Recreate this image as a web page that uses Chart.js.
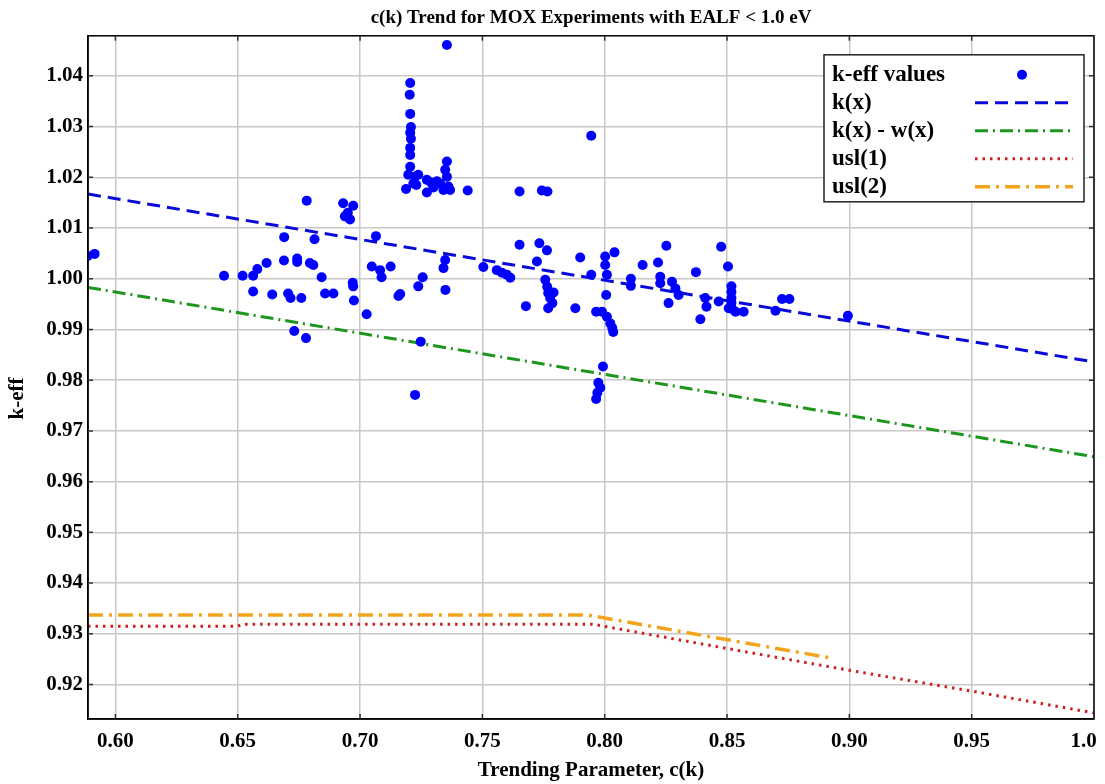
<!DOCTYPE html>
<html>
<head>
<meta charset="utf-8">
<script src="https://cdn.jsdelivr.net/npm/chart.js@4.4.1/dist/chart.umd.min.js"></script>
<style>
  body { margin: 0; background: #fff; }
  #wrap { width: 1105px; height: 784px; }
</style>
</head>
<body>
<div id="wrap"><canvas id="ckChart" width="1105" height="784"></canvas></div>
<script>
// k-eff values
var keffX = [0.5887, 0.5915,
  0.6444, 0.6520, 0.6563, 0.6580, 0.6563, 0.6618, 0.6641, 0.6690, 0.6689, 0.6743, 0.6743, 0.6706, 0.6716, 0.6760,
  0.6731, 0.6782, 0.6779, 0.6814, 0.6795, 0.6809, 0.6843, 0.6857, 0.6891,
  0.6931, 0.6972, 0.6938, 0.6959, 0.6950,
  0.6970, 0.6972, 0.6975, 0.7027, 0.7048, 0.7065, 0.7082, 0.7088, 0.7125, 0.7157, 0.7164,
  0.7205, 0.7203, 0.7205, 0.7208, 0.7205, 0.7208, 0.7205, 0.7205, 0.7205, 0.7197, 0.7225, 0.7238, 0.7218, 0.7188,
  0.7273, 0.7273, 0.7290, 0.7314, 0.7327, 0.7341, 0.7361, 0.7368, 0.7355, 0.7348, 0.7355, 0.7355, 0.7440, 0.7230, 0.7300,
  0.7238, 0.7256, 0.7225, 0.7248, 0.7348, 0.7341, 0.7349,
  0.7504, 0.7559, 0.7580, 0.7600, 0.7614, 0.7652, 0.7652, 0.7678, 0.7733, 0.7764, 0.7723, 0.7743, 0.7766,
  0.7757, 0.7765, 0.7769, 0.7777, 0.7786, 0.7769, 0.7791, 0.7880, 0.7900, 0.7945, 0.7945,
  0.8002, 0.8002, 0.8009, 0.8006, 0.7965, 0.7989, 0.8009, 0.8023, 0.8031, 0.8035, 0.8040, 0.7993, 0.7974, 0.7982, 0.7970, 0.7965,
  0.8107, 0.8107, 0.8155, 0.8218, 0.8227, 0.8227, 0.8252, 0.8275, 0.8289, 0.8302, 0.8261,
  0.8373, 0.8391, 0.8411, 0.8416, 0.8466, 0.8476, 0.8504, 0.8518, 0.8518, 0.8518, 0.8518, 0.8522, 0.8535, 0.8507, 0.8568,
  0.8698, 0.8725, 0.8755, 0.8994];
var keffY = [1.0045, 1.0049,
  1.0006, 1.0006, 1.0006, 1.0019, 0.9975, 1.0031, 0.9969, 1.0082, 1.0036, 1.0040, 1.0033, 0.9971, 0.9962, 0.9962,
  0.9897, 1.0154, 0.9883, 1.0078, 1.0031, 1.0027, 1.0003, 0.9971, 0.9971,
  1.0149, 1.0144, 1.0123, 1.0117, 1.0130,
  0.9992, 0.9985, 0.9957, 0.9930, 1.0024, 1.0084, 1.0017, 1.0003, 1.0024, 0.9966, 0.9970,
  1.0386, 1.0363, 1.0325, 1.0299, 1.0288, 1.0276, 1.0258, 1.0244, 1.0221, 1.0205, 1.0201, 1.0205, 1.0188, 1.0177,
  1.0195, 1.0170, 1.0190, 1.0192, 1.0188, 1.0175, 1.0182, 1.0175, 1.0231, 1.0215, 1.0201, 1.0461, 1.0174, 1.0185, 1.0180,
  0.9985, 1.0003, 0.9771, 0.9876, 1.0037, 1.0021, 0.9978,
  1.0023, 1.0017, 1.0012, 1.0008, 1.0002, 1.0172, 1.0067, 0.9946, 1.0070, 1.0056, 1.0034, 1.0174, 1.0172,
  0.9998, 0.9984, 0.9972, 0.9962, 0.9952, 0.9942, 0.9973, 0.9942, 1.0042, 1.0008, 1.0282,
  1.0044, 1.0027, 1.0008, 0.9968, 0.9935, 0.9935, 0.9925, 0.9912, 0.9903, 0.9895, 1.0052, 0.9827, 0.9795, 0.9785, 0.9775, 0.9763,
  1.0000, 0.9986, 1.0027, 1.0032, 1.0004, 0.9991, 1.0065, 0.9994, 0.9981, 0.9968, 0.9952,
  1.0013, 0.9920, 0.9962, 0.9945, 0.9955, 1.0063, 1.0024, 0.9985, 0.9974, 0.9962, 0.9952, 0.9940, 0.9935, 0.9942, 0.9935,
  0.9937, 0.9960, 0.9960, 0.9927];

// trend lines
var kxX = [0.5888, 1.0];
var kxY = [1.0167, 0.9836];
var kwX = [0.5888, 1.0];
var kwY = [0.9983, 0.9649];
var usl1X = [0.5888, 0.650, 0.652, 0.795, 0.850, 0.900, 0.950, 1.0];
var usl1Y = [0.9315, 0.9315, 0.9319, 0.9319, 0.9271, 0.9228, 0.9187, 0.9144];
var usl2X = [0.5888, 0.793, 0.8915];
var usl2Y = [0.9337, 0.9337, 0.9253];

var xTicks = [0.60, 0.65, 0.70, 0.75, 0.80, 0.85, 0.90, 0.95, 1.0];
var yTicks = [0.92, 0.93, 0.94, 0.95, 0.96, 0.97, 0.98, 0.99, 1.00, 1.01, 1.02, 1.03, 1.04];

function pts(xs, ys) {
  return xs.map(function (x, i) { return { x: x, y: ys[i] }; });
}

var serif = '"Liberation Serif", "Times New Roman", serif';

// box around the plot with small inward tick marks
var frame = {
  id: 'frame',
  afterDatasetsDraw: function (chart) {
    var ctx = chart.ctx, a = chart.chartArea;
    var xs = chart.scales.x, ys = chart.scales.y;
    ctx.save();
    ctx.strokeStyle = '#000';
    ctx.lineWidth = 1.5;
    ctx.strokeRect(a.left, a.top, a.right - a.left, a.bottom - a.top);
    ctx.strokeStyle = '#333';
    ctx.beginPath();
    xs.ticks.forEach(function (t) {
      var px = xs.getPixelForValue(t.value);
      ctx.moveTo(px, a.bottom); ctx.lineTo(px, a.bottom - 5);
      ctx.moveTo(px, a.top); ctx.lineTo(px, a.top + 5);
    });
    ys.ticks.forEach(function (t) {
      var py = ys.getPixelForValue(t.value);
      ctx.moveTo(a.left, py); ctx.lineTo(a.left + 5, py);
      ctx.moveTo(a.right, py); ctx.lineTo(a.right - 5, py);
    });
    ctx.stroke();
    ctx.restore();
  }
};

// legend with text on the left and the symbol on the right
var legendBox = {
  id: 'legendBox',
  afterDraw: function (chart) {
    var ctx = chart.ctx, a = chart.chartArea;
    var w = 260, h = 147, rowH = 28;
    var left = a.right - 10 - w, top = a.top + 19;
    ctx.save();
    ctx.fillStyle = '#fff';
    ctx.fillRect(left, top, w, h);
    ctx.strokeStyle = '#222';
    ctx.lineWidth = 1.5;
    ctx.strokeRect(left, top, w, h);
    ctx.font = 'bold 23px ' + serif;
    ctx.textBaseline = 'middle';
    chart.data.datasets.forEach(function (ds, i) {
      var y = top + 20 + i * rowH;
      ctx.fillStyle = '#000';
      ctx.fillText(ds.label, left + 8, y);
      if (!ds.showLine) {
        ctx.fillStyle = ds.backgroundColor;
        ctx.beginPath();
        ctx.arc(left + 198, y, 5, 0, Math.PI * 2);
        ctx.fill();
      } else {
        ctx.strokeStyle = ds.borderColor;
        ctx.lineWidth = ds.borderWidth;
        ctx.setLineDash(ds.borderDash || []);
        ctx.beginPath();
        ctx.moveTo(left + 151, y);
        ctx.lineTo(left + 249, y);
        ctx.stroke();
        ctx.setLineDash([]);
      }
    });
    ctx.restore();
  }
};

new Chart("ckChart", {
  type: "scatter",
  data: {
    datasets: [{
      label: "k-eff values",
      data: pts(keffX, keffY),
      backgroundColor: "#0000ff",
      borderColor: "#0000ff",
      pointRadius: 5,
      pointBorderWidth: 0,
      showLine: false
    }, {
      label: "k(x)",
      data: pts(kxX, kxY),
      showLine: true,
      borderColor: "#0a0ad8",
      borderWidth: 3,
      borderDash: [13, 7],
      pointRadius: 0
    }, {
      label: "k(x) - w(x)",
      data: pts(kwX, kwY),
      showLine: true,
      borderColor: "#1c961c",
      borderWidth: 3,
      borderDash: [13, 5, 2, 5],
      pointRadius: 0
    }, {
      label: "usl(1)",
      data: pts(usl1X, usl1Y),
      showLine: true,
      borderColor: "#cc1f1f",
      borderWidth: 3,
      borderDash: [2.5, 5],
      pointRadius: 0
    }, {
      label: "usl(2)",
      data: pts(usl2X, usl2Y),
      showLine: true,
      borderColor: "#f2a51c",
      borderWidth: 3.5,
      borderDash: [15, 6, 3, 6],
      pointRadius: 0
    }]
  },
  options: {
    responsive: false,
    animation: false,
    layout: { padding: { left: 0, right: 11, top: 0, bottom: 0 } },
    plugins: {
      legend: { display: false },
      tooltip: { enabled: false },
      title: {
        display: true,
        fullSize: false,
        text: "c(k) Trend for MOX Experiments with EALF < 1.0 eV",
        color: "#000",
        font: { family: serif, size: 19, weight: "bold", lineHeight: 1.2 },
        padding: { top: 7, bottom: 6 }
      }
    },
    scales: {
      x: {
        type: "linear",
        min: 0.5888,
        max: 1.0,
        afterFit: function (s) { s.height = 65; s.paddingLeft = 0; s.paddingRight = 0; },
        afterBuildTicks: function (s) { s.ticks = xTicks.map(function (v) { return { value: v }; }); },
        ticks: {
          padding: 10,
          color: "#000",
          font: { family: serif, size: 21, weight: "bold" },
          maxRotation: 0,
          callback: function (v) { return v === 1 ? "1.0    " : v.toFixed(2); }
        },
        grid: { color: "#c8c8c8", lineWidth: 1.5, drawTicks: false },
        border: { color: "#000", width: 1.5 },
        title: {
          display: true,
          text: "Trending Parameter, c(k)",
          color: "#000",
          font: { family: serif, size: 21, weight: "bold", lineHeight: 1.2 },
          padding: { top: 0, bottom: 1 }
        }
      },
      y: {
        type: "linear",
        min: 0.9132,
        max: 1.0479,
        afterFit: function (s) { s.width = 88; },
        afterBuildTicks: function (s) { s.ticks = yTicks.map(function (v) { return { value: v }; }); },
        ticks: {
          padding: 5,
          color: "#000",
          font: { family: serif, size: 21, weight: "bold" },
          callback: function (v) { return v.toFixed(2); }
        },
        grid: { color: "#c8c8c8", lineWidth: 1.5, drawTicks: false },
        border: { color: "#000", width: 1.5 },
        title: {
          display: true,
          text: "k-eff        ",
          color: "#000",
          font: { family: serif, size: 21, weight: "bold", lineHeight: 1.2 },
          padding: { top: 5, bottom: 0 }
        }
      }
    }
  },
  plugins: [frame, legendBox]
});
</script>
</body>
</html>
